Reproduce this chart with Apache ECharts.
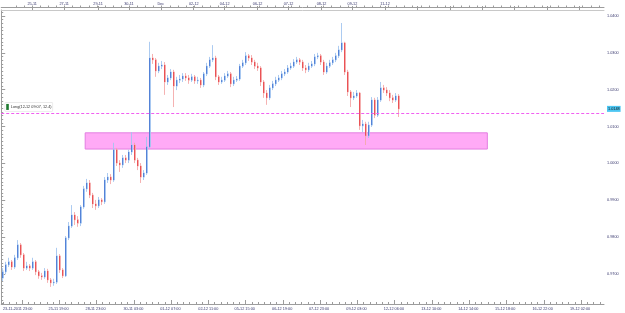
<!DOCTYPE html>
<html><head><meta charset="utf-8">
<script src="https://cdn.jsdelivr.net/npm/echarts@6/dist/echarts.min.js"></script>
<style>html,body{margin:0;padding:0;background:#fff}#c{width:625px;height:313px}</style>
</head><body><div id="c"></div>
<script>
// ---- data ----
const openP = [0.9689,0.9706,0.9725,0.9733,0.9719,0.9744,0.9779,0.9752,0.9716,0.9722,
0.9716,0.9733,0.9706,0.9695,0.9692,0.9708,0.9684,0.9676,0.9678,0.9749,
0.9711,0.9695,0.9798,0.9830,0.9860,0.9847,0.9838,0.9882,0.9931,0.9947,
0.9914,0.9890,0.9885,0.9901,0.9896,0.9955,0.9963,0.9955,1.0037,1.0001,
0.9996,1.0015,1.0009,1.0031,1.0050,1.0009,0.9993,0.9963,0.9974,1.0045,
1.0286,1.0281,1.0251,1.0264,1.0267,1.0221,1.0232,1.0248,1.0210,1.0226,
1.0229,1.0237,1.0232,1.0226,1.0235,1.0224,1.0226,1.0213,1.0243,1.0264,
1.0281,1.0286,1.0235,1.0221,1.0226,1.0237,1.0243,1.0216,1.0226,1.0229,
1.0264,1.0273,1.0292,1.0286,1.0275,1.0264,1.0259,1.0221,1.0191,1.0178,
1.0205,1.0216,1.0226,1.0232,1.0243,1.0248,1.0259,1.0264,1.0275,1.0281,
1.0275,1.0259,1.0254,1.0264,1.0270,1.0289,1.0292,1.0275,1.0248,1.0264,
1.0273,1.0281,1.0292,1.0308,1.0327,1.0248,1.0194,1.0178,1.0183,1.0191,
1.0102,1.0107,1.0075,1.0104,1.0172,1.0131,1.0172,1.0205,1.0199,1.0191,
1.0178,1.0172,1.0183];
const closeP = [0.9706,0.9725,0.9733,0.9719,0.9744,0.9779,0.9752,0.9716,0.9722,0.9716,
0.9733,0.9706,0.9695,0.9692,0.9708,0.9684,0.9676,0.9678,0.9749,0.9711,
0.9695,0.9798,0.9830,0.9860,0.9847,0.9838,0.9882,0.9931,0.9947,0.9914,
0.9890,0.9885,0.9901,0.9896,0.9955,0.9963,0.9955,1.0037,1.0001,0.9996,
1.0015,1.0009,1.0031,1.0050,1.0009,0.9993,0.9963,0.9974,1.0045,1.0286,
1.0281,1.0251,1.0264,1.0267,1.0221,1.0232,1.0248,1.0210,1.0226,1.0229,
1.0237,1.0232,1.0226,1.0235,1.0224,1.0226,1.0213,1.0243,1.0264,1.0281,
1.0286,1.0235,1.0221,1.0226,1.0237,1.0243,1.0216,1.0226,1.0229,1.0264,
1.0273,1.0292,1.0286,1.0275,1.0264,1.0259,1.0221,1.0191,1.0178,1.0205,
1.0216,1.0226,1.0232,1.0243,1.0248,1.0259,1.0264,1.0275,1.0281,1.0275,
1.0259,1.0254,1.0264,1.0270,1.0289,1.0292,1.0275,1.0248,1.0264,1.0273,
1.0281,1.0292,1.0308,1.0327,1.0248,1.0194,1.0178,1.0183,1.0191,1.0102,
1.0107,1.0075,1.0104,1.0172,1.0131,1.0172,1.0205,1.0199,1.0191,1.0178,
1.0172,1.0183,1.0148];
const highP = [0.9716,0.9733,0.9744,0.9738,0.9752,0.9792,0.9784,0.9757,0.9733,0.9727,
0.9744,0.9738,0.9711,0.9703,0.9716,0.9714,0.9689,0.9687,0.9771,0.9754,
0.9716,0.9803,0.9841,0.9887,0.9868,0.9857,0.9887,0.9939,0.9958,0.9955,
0.9920,0.9901,0.9909,0.9906,0.9963,0.9974,0.9971,1.0056,1.0042,1.0009,
1.0023,1.0023,1.0037,1.0085,1.0056,1.0015,1.0001,0.9982,1.0072,1.0330,
1.0297,1.0286,1.0273,1.0278,1.0275,1.0240,1.0256,1.0254,1.0235,1.0240,
1.0245,1.0245,1.0240,1.0243,1.0240,1.0235,1.0232,1.0248,1.0273,1.0289,
1.0321,1.0292,1.0240,1.0235,1.0245,1.0251,1.0248,1.0235,1.0237,1.0270,
1.0281,1.0302,1.0297,1.0294,1.0281,1.0273,1.0264,1.0226,1.0199,1.0213,
1.0224,1.0235,1.0240,1.0251,1.0256,1.0267,1.0273,1.0283,1.0289,1.0286,
1.0281,1.0267,1.0273,1.0278,1.0297,1.0300,1.0297,1.0281,1.0273,1.0281,
1.0289,1.0300,1.0319,1.0381,1.0330,1.0254,1.0199,1.0194,1.0199,1.0194,
1.0118,1.0113,1.0113,1.0180,1.0178,1.0180,1.0221,1.0213,1.0207,1.0199,
1.0186,1.0191,1.0188];
const lowP = [0.9681,0.9700,0.9719,0.9711,0.9714,0.9738,0.9744,0.9708,0.9711,0.9708,
0.9711,0.9697,0.9687,0.9684,0.9687,0.9676,0.9665,0.9668,0.9673,0.9703,
0.9689,0.9692,0.9792,0.9825,0.9833,0.9828,0.9830,0.9877,0.9923,0.9906,
0.9879,0.9874,0.9879,0.9887,0.9890,0.9947,0.9944,0.9950,0.9993,0.9977,
0.9988,1.0001,1.0001,1.0023,1.0001,0.9982,0.9947,0.9955,0.9969,1.0042,
1.0270,1.0235,1.0245,1.0256,1.0186,1.0213,1.0226,1.0153,1.0199,1.0218,
1.0221,1.0224,1.0216,1.0221,1.0216,1.0216,1.0205,1.0207,1.0237,1.0259,
1.0275,1.0226,1.0213,1.0216,1.0221,1.0232,1.0207,1.0210,1.0221,1.0224,
1.0259,1.0267,1.0278,1.0267,1.0256,1.0251,1.0210,1.0178,1.0159,1.0172,
1.0199,1.0210,1.0221,1.0226,1.0237,1.0243,1.0254,1.0259,1.0270,1.0267,
1.0251,1.0245,1.0248,1.0259,1.0264,1.0283,1.0267,1.0240,1.0243,1.0259,
1.0267,1.0275,1.0286,1.0302,1.0240,1.0183,1.0153,1.0172,1.0178,1.0091,
1.0085,1.0050,1.0069,1.0099,1.0123,1.0126,1.0167,1.0191,1.0183,1.0169,
1.0164,1.0167,1.0126];

const barSlots = 201;                       // bar slots across the chart (incl. empty future)
const priceLabels = [0.97,0.98,0.99,1.00,1.01,1.02,1.03,1.04];
const bottomLabels = ['23-11-2011 23:00','25-11 19:00','28-11 23:00','30-11 03:00','01-12 07:00','02-12 11:00','05-12 15:00','06-12 19:00','07-12 23:00','09-12 03:00','12-12 06:00','13-12 10:00','14-12 14:00','15-12 18:00','16-12 22:00','19-12 02:00'];
const bottomLabelBars = [5.5,19.13,31.45,44.09,56.41,69.05,81.2,93.68,105.99,118.47,130.95,143.43,155.74,168.05,180.53,193.01];
const bottomTickBars = [6.92,19.35,31.78,44.21,56.64,69.07,81.5,93.93,106.36,118.79,131.22,143.65,156.08,168.51,180.94,193.37];
const topLabels = ['25-11','27-11','29-11','30-11','Dec','02-12','04-12','06-12','07-12','08-12','09-12','11-12'];
const topLabelBars = [10.3,21.0,32.3,42.6,53.2,64.2,74.5,85.5,95.8,106.8,117.1,128.0];
const topTickBars = [10.3,21.0,32.3,42.6,53.2,64.2,74.5,85.5,95.8,106.8,117.1,128.0,138.8,149.6,160.4,171.2,182.0,192.8];
const zone = {fromBar: 28.0, toBar: 162.1, low: 1.0039, high: 1.0083};
const orderPrice = 1.0137;
const orderText = 'Long(12-12 09:07, 12.4)';
const bidPrice = 1.0148;
const yMin = 0.96186, yMax = 1.04163;

// ---- build ----
const cats = [];
for (let i = 0; i < barSlots; i++) cats.push(String(i));
const fullData = openP.map((o, i) => [o, closeP[i], lowP[i], highP[i]]);
const bodyData = openP.map((o, i) => [o, closeP[i], Math.min(o, closeP[i]), Math.max(o, closeP[i])]);
const minorPrices = [];
for (let k = 962; k <= 1041; k++) minorPrices.push(k / 1000);
const bottomMinor = [];
for (let v = 6.92 - 3 * 2.0717; v < barSlots; v += 2.0717) if (v >= 0) bottomMinor.push(+v.toFixed(3));
const topMinor = [];
for (let v = 10.3 - 2 * 2.7; v < barSlots; v += 2.7) if (v >= 0) topMinor.push(+v.toFixed(3));

const FONT = "'Liberation Sans', Arial, sans-serif";
const TXT = '#3b3b70';
const AX = '#9c9c9c';
const fs = 3.8;
const PINK = '#f060f0';

const chart = echarts.init(document.getElementById('c'), null, {renderer: 'canvas'});
chart.setOption({
  animation: false,
  backgroundColor: '#ffffff',
  grid: {left: 0, right: 21, top: 10, bottom: 9, containLabel: false},
  xAxis: [
    {type: 'category', data: cats, show: false, boundaryGap: true},
    {type: 'value', min: 0, max: barSlots, position: 'bottom',
      axisLine: {show: true, onZero: false, lineStyle: {color: AX, width: 1}},
      axisTick: {show: true, inside: true, length: 4, customValues: bottomTickBars, lineStyle: {color: AX}},
      axisLabel: {show: true, customValues: bottomLabelBars, margin: 3, fontSize: fs, fontFamily: FONT, color: TXT,
        formatter: v => bottomLabels[bottomLabelBars.indexOf(v)] || ''},
      splitLine: {show: false}},
    {type: 'value', min: 0, max: barSlots, position: 'bottom',
      axisLine: {show: false, onZero: false},
      axisTick: {show: true, inside: true, length: 2, customValues: bottomMinor, lineStyle: {color: AX}},
      axisLabel: {show: false}, splitLine: {show: false}},
    {type: 'value', min: 0, max: barSlots, position: 'top',
      axisLine: {show: true, onZero: false, lineStyle: {color: '#c8c8c8', width: 1}},
      axisTick: {show: true, inside: false, length: 4, customValues: topTickBars, lineStyle: {color: AX}},
      axisLabel: {show: true, customValues: topLabelBars, margin: 4, fontSize: fs, fontFamily: FONT, color: TXT,
        formatter: v => topLabels[topLabelBars.indexOf(v)] || ''},
      splitLine: {show: false}},
    {type: 'value', min: 0, max: barSlots, position: 'top', offset: 3,
      axisLine: {show: true, onZero: false, lineStyle: {color: AX, width: 1}},
      axisTick: {show: true, inside: false, length: 1.5, customValues: topMinor, lineStyle: {color: AX}},
      axisLabel: {show: false}, splitLine: {show: false}}
  ],
  yAxis: [
    {type: 'value', position: 'right', min: yMin, max: yMax,
      axisLine: {show: true, lineStyle: {color: AX, width: 1}},
      axisTick: {show: true, inside: false, length: 4, customValues: priceLabels, lineStyle: {color: AX}},
      axisLabel: {show: true, customValues: priceLabels, margin: 3, fontSize: fs, fontFamily: FONT, color: TXT,
        formatter: v => v.toFixed(4)},
      splitLine: {show: false}},
    {type: 'value', position: 'right', min: yMin, max: yMax,
      axisLine: {show: false},
      axisTick: {show: true, inside: false, length: 2, customValues: minorPrices, lineStyle: {color: AX}},
      axisLabel: {show: false}, splitLine: {show: false}}
  ],
  series: [
    {type: 'custom', xAxisIndex: 1, yAxisIndex: 0, z: 1, silent: true,
      encode: {x: [0, 1], y: [2, 3]},
      data: [[zone.fromBar, zone.toBar, zone.low, zone.high]],
      renderItem: (params, api) => {
        const p0 = api.coord([api.value(0), api.value(3)]);
        const p1 = api.coord([api.value(1), api.value(2)]);
        return {type: 'rect', shape: {x: p0[0], y: p0[1], width: p1[0] - p0[0], height: p1[1] - p0[1]},
          style: {fill: '#ffaaf6', stroke: '#e27fe0', lineWidth: 1}};
      }},
    // order line (dash) spanning the plot, drawn through the axes
    {type: 'custom', xAxisIndex: 1, yAxisIndex: 0, z: 4, silent: true,
      encode: {x: [0, 1], y: 2},
      data: [[0, barSlots, orderPrice]],
      renderItem: (params, api) => {
        const a = api.coord([api.value(0), api.value(2)]);
        const b = api.coord([api.value(1), api.value(2)]);
        const y = Math.round(a[1]) + 0.5;
        return {type: 'line', shape: {x1: a[0], y1: y, x2: b[0], y2: y},
          style: {stroke: PINK, lineWidth: 1, lineDash: [3, 2]}};
      }},
    {type: 'candlestick', xAxisIndex: 0, yAxisIndex: 0, z: 2, barWidth: 1.6, silent: true,
      data: fullData,
      itemStyle: {color: '#a3c5ef', color0: '#f4a9a9', borderColor: '#a3c5ef', borderColor0: '#f4a9a9',
        borderColorDoji: '#a3c5ef', borderWidth: 0.9}},
    {type: 'candlestick', xAxisIndex: 0, yAxisIndex: 0, z: 3, barWidth: 0.8, silent: true,
      data: bodyData,
      itemStyle: {color: '#1b52c6', color0: '#e2141a', borderColor: '#1b52c6', borderColor0: '#e2141a',
        borderColorDoji: '#1b52c6', borderWidth: 0.6},
      markLine: {silent: true, symbol: ['none', 'none'], precision: 4,
        data: [
          {yAxis: orderPrice, lineStyle: {color: 'rgba(0,0,0,0)', width: 0},
            label: {show: true, position: 'insideStartTop', distance: [4, 2],
              formatter: '{sq|}{t|' + orderText + '}',
              backgroundColor: '#ffffff', borderColor: '#d8d8d8', borderWidth: 0.5, padding: [1, 1, 1, 1],
              rich: {sq: {width: 2.6, height: 6, backgroundColor: '#1e7a30'},
                t: {fontSize: fs, fontFamily: FONT, color: '#333', padding: [0, 0, 0, 2]}}}},
          {yAxis: bidPrice, lineStyle: {color: 'rgba(0,0,0,0)', width: 0},
            label: {show: true, position: 'end', distance: 3, formatter: bidPrice.toFixed(4),
              backgroundColor: '#4cc6f2', color: '#111', fontSize: fs, fontFamily: FONT, padding: [1, 1, 1, 1]}}
        ]}}
  ]
});
</script></body></html>
